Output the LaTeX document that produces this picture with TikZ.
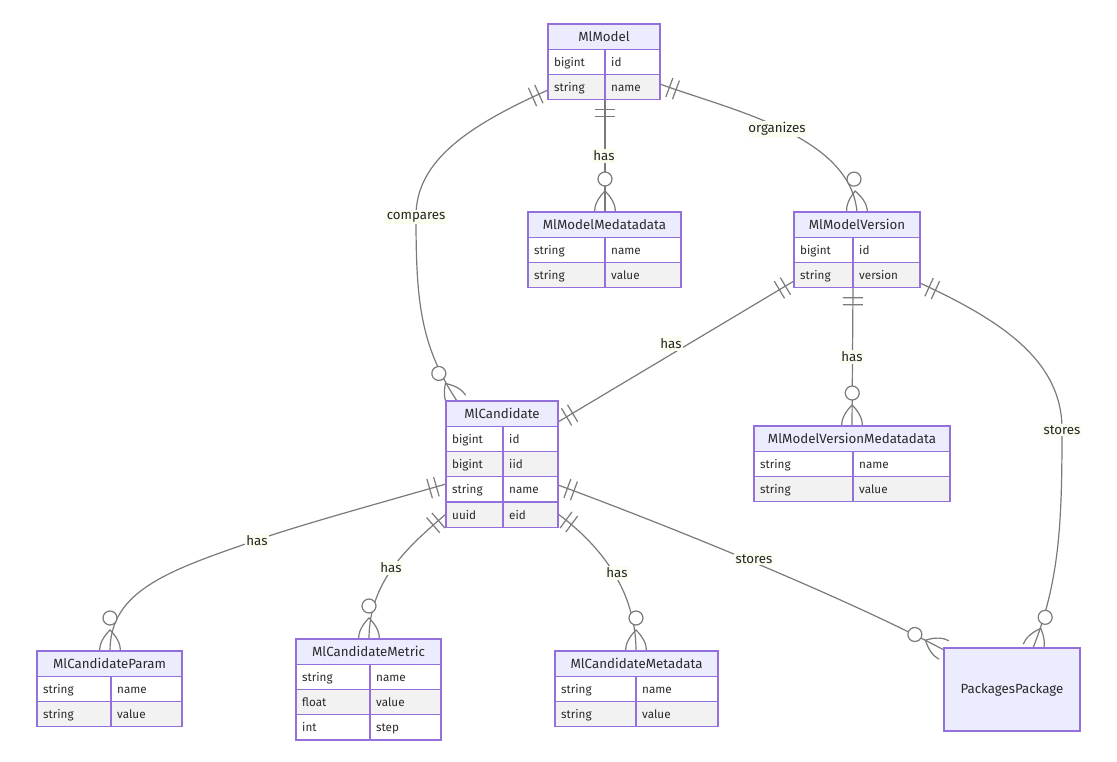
\documentclass[tikz,border=0pt]{standalone}
\usepackage{fontspec}
\setmainfont{Fira Sans}
\usetikzlibrary{calc}
\definecolor{entborder}{HTML}{9370DB}
\definecolor{headfill}{HTML}{ECECFF}
\definecolor{evenfill}{HTML}{F2F2F2}
\definecolor{relgray}{HTML}{7A7A7A}
\definecolor{txt}{HTML}{2A2A2A}
\definecolor{lblbg}{RGB}{249,254,240}
\pgfdeclarelayer{back}
\pgfdeclarelayer{edges}
\pgfsetlayers{back,edges,main}
\tikzset{
  entline/.style={draw=entborder, line width=1.1pt},
  entbox/.style={draw=entborder, line width=1.3pt, inner sep=0pt, outer sep=0pt, anchor=north west},
  enttitle/.style={text=txt, font=\fontsize{13.3}{15}\selectfont, inner sep=0pt, text height=9.5pt, text depth=3pt},
  attr/.style={text=txt, font=\fontsize{11.7}{14}\selectfont, inner sep=0pt, anchor=west, text height=8.5pt, text depth=2.5pt},
  rel/.style={draw=relgray, line width=1.2pt},
  lbl/.style={fill=lblbg, text=txt!85!black, font=\fontsize{13.3}{15}\selectfont, inner sep=1.5pt},
  zom/.pic={
    \draw[rel] (0,10.5) .. controls (7,10.5) and (14,7) .. (21,0) .. controls (14,-7) and (7,-10.5) .. (0,-10.5);
    \draw[rel, fill=white] (33,0) circle[radius=7];
  },
  one/.pic={
    \draw[rel] (10,-10) -- (10,10) (17,-10) -- (17,10);
  }
}
% entity: name, x, y, width, divider offset, number of rows, title, rows
\newcommand\erent[8]{%
  \fill[headfill] (#2,#3) rectangle ++(#4,25.25);
  \foreach \ty/\nm [count=\i] in {#8} {
    \pgfmathtruncatemacro\erodd{mod(\i,2)}
    \ifnum\erodd=0 \fill[evenfill] (#2,#3+25.25*\i) rectangle ++(#4,25.25); \fi
    \draw[entline] (#2,#3+25.25*\i) -- ++(#4,0);
    \node[attr] (#1-t\i) at (#2+6,#3+25.25*\i+14) {\ty};
    \node[attr] (#1-n\i) at (#2+#5+6,#3+25.25*\i+14) {\nm};
  }
  \draw[entline] (#2+#5,#3+25.25) -- (#2+#5,#3+25.25*#6+25.25);
  \node[enttitle] (#1-h) at (#2+#4/2,#3+14) {#7};
  \node[entbox, minimum width=#4pt, minimum height={(#6+1)*25.25}] (#1) at (#2,#3) {};
}
\newcommand\mk[3]{\path let \p1=(#2), \p2=(#3), \n1={atan2(\y2-\y1,\x2-\x1)} in pic[rotate=\n1] at (\p1) {#1};}
\begin{document}
\begin{tikzpicture}[x=1pt,y=-1pt]
\begin{pgfonlayer}{back}
\fill[white] (0,0) rectangle (1117,762);
\end{pgfonlayer}
\useasboundingbox (0,0) rectangle (1117,762);

\erent{mlmodel}{548}{24}{112}{57}{2}{MlModel}{bigint/id,string/name}
\erent{mlmodelmeta}{528}{212}{153}{77}{2}{MlModelMedatadata}{string/name,string/value}
\erent{mlmodelversion}{794}{212}{126}{59}{2}{MlModelVersion}{bigint/id,string/version}
\erent{mlcandidate}{446}{401}{112}{57}{4}{MlCandidate}{bigint/id,bigint/iid,string/name,uuid/eid}
\erent{mlmvmeta}{754}{426}{196}{99}{2}{MlModelVersionMedatadata}{string/name,string/value}
\erent{mlcparam}{37}{651}{145}{74}{2}{MlCandidateParam}{string/name,string/value}
\erent{mlcmetric}{296}{639}{145}{74}{3}{MlCandidateMetric}{string/name,float/value,int/step}
\erent{mlcmetadata}{555}{651}{163}{81}{2}{MlCandidateMetadata}{string/name,string/value}
\node[entbox, fill=headfill, minimum width=136pt, minimum height=83pt] (packages) at (944,648) {};
\node[enttitle] (packages-h) at ($(packages.center)+(0,1)$) {PackagesPackage};

% connector end points
\coordinate (e1s) at ($(mlmodel.north west)+(0,66)$);
\coordinate (e1t) at ($(mlcandidate.north west)+(11,0)$);
\coordinate (e2s) at ($(mlmodel.south west)+(57,0)$);
\coordinate (e2t) at ($(mlmodelmeta.north west)+(77,0)$);
\coordinate (e3s) at ($(mlmodel.north east)+(0,60)$);
\coordinate (e3t) at ($(mlmodelversion.north west)+(63,0)$);
\coordinate (e4s) at ($(mlmodelversion.north west)+(0,69)$);
\coordinate (e4t) at ($(mlcandidate.north east)+(0,21)$);
\coordinate (e5s) at ($(mlmodelversion.south west)+(59,0)$);
\coordinate (e5t) at ($(mlmvmeta.north west)+(98,0)$);
\coordinate (e6s) at ($(mlmodelversion.north east)+(0,71)$);
\coordinate (e6t) at ($(packages.north west)+(89,0)$);
\coordinate (e7s) at ($(mlcandidate.north west)+(0,83)$);
\coordinate (e7t) at ($(mlcparam.north west)+(73,0)$);
\coordinate (e8s) at ($(mlcandidate.north west)+(0,113)$);
\coordinate (e8t) at ($(mlcmetric.north west)+(73,0)$);
\coordinate (e9s) at ($(mlcandidate.north east)+(0,113)$);
\coordinate (e9t) at ($(mlcmetadata.north west)+(81,0)$);
\coordinate (e10s) at ($(mlcandidate.north east)+(0,84)$);
\coordinate (e10t) at ($(packages.north west)+(0,2)$);

\begin{pgfonlayer}{edges}
\draw[rel] (e1s) .. controls (470,125) and (416,160) .. (416,216) .. controls (416,300) and (420,345) .. (e1t);
\mk{one}{e1s}{470,125}
\mk{zom}{e1t}{420,345}
\draw[rel] (e2s) -- (e2t);
\mk{one}{e2s}{e2t}
\mk{zom}{e2t}{e2s}
\draw[rel] (e3s) .. controls (730,110) and (850,135) .. (e3t);
\mk{one}{e3s}{730,110}
\mk{zom}{e3t}{850,135}
\draw[rel] (e4s) -- (e4t);
\mk{one}{e4s}{e4t}
\mk{one}{e4t}{e4s}
\draw[rel] (e5s) -- (e5t);
\mk{one}{e5s}{e5t}
\mk{zom}{e5t}{e5s}
\draw[rel] (e6s) .. controls (1000,320) and (1062,360) .. (1062,429) .. controls (1062,520) and (1060,580) .. (e6t);
\mk{one}{e6s}{1000,320}
\mk{zom}{e6t}{1060,580}
\draw[rel] (e7s) .. controls (380,503) and (300,525) .. (257,540) .. controls (170,570) and (110,590) .. (e7t);
\mk{one}{e7s}{380,503}
\mk{zom}{e7t}{110,590}
\draw[rel] (e8s) .. controls (410,545) and (369,580) .. (e8t);
\mk{one}{e8s}{410,545}
\mk{zom}{e8t}{369,580}
\draw[rel] (e9s) .. controls (600,545) and (636,590) .. (e9t);
\mk{one}{e9s}{600,545}
\mk{zom}{e9t}{636,590}
\draw[rel] (e10s) .. controls (680,530) and (850,600) .. (e10t);
\mk{one}{e10s}{680,530}
\mk{zom}{e10t}{850,600}
\end{pgfonlayer}

\node[lbl] (l1) at (416,217) {compares};
\node[lbl] (l2) at (604,156) {has};
\node[lbl] (l3) at (777,129) {organizes};
\node[lbl] (l4) at (671,344) {has};
\node[lbl] (l5) at (852,357) {has};
\node[lbl] (l6) at (1062,430) {stores};
\node[lbl] (l7) at (257,541) {has};
\node[lbl] (l8) at (391,568) {has};
\node[lbl] (l9) at (617,573) {has};
\node[lbl] (l10) at (754,559) {stores};
\end{tikzpicture}
\end{document}
